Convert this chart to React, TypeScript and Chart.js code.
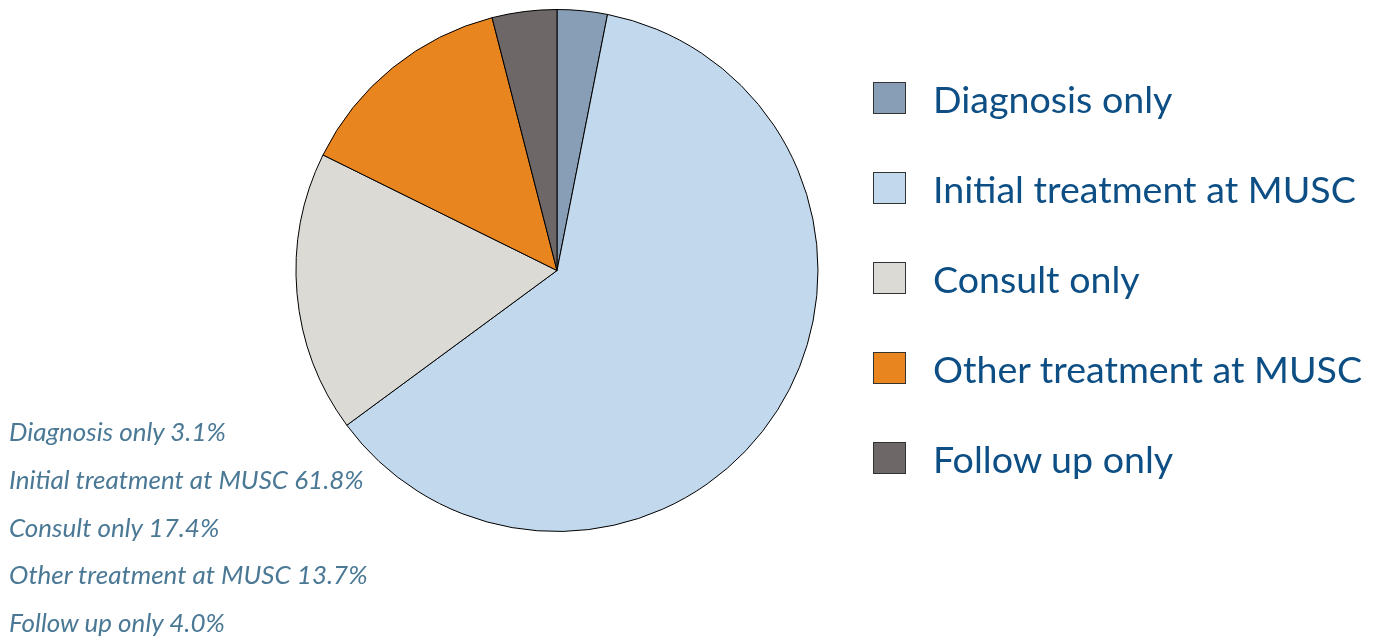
import React, { useEffect, useRef } from "react";
import { Chart, registerables } from "chart.js";

Chart.register(...registerables);

const categories = [
  "Diagnosis only",
  "Initial treatment at MUSC",
  "Consult only",
  "Other treatment at MUSC",
  "Follow up only",
];
const percentages = [3.1, 61.8, 17.4, 13.7, 4.0];
const colors = ["#889db6", "#c2d8ec", "#dbdad5", "#e8851f", "#6d6867"];

const FONT = "Lato, 'Noto Sans', sans-serif";

export default function App() {
  const ref = useRef<HTMLCanvasElement | null>(null);

  useEffect(() => {
    if (!ref.current) return;
    const chart = new Chart(ref.current, {
      type: "pie",
      data: {
        labels: categories,
        datasets: [
          {
            data: percentages,
            backgroundColor: colors,
            borderColor: "#000000",
            borderWidth: 1,
            hoverBorderWidth: 1,
          },
        ],
      },
      options: {
        animation: false,
        responsive: false,
        events: [],
        layout: { padding: { left: 295, top: 9, right: 575, bottom: 106 } },
        plugins: {
          legend: { display: false },
          tooltip: { enabled: false },
        },
      },
    });
    return () => chart.destroy();
  }, []);

  return (
    <div style={{ position: "fixed", left: 0, top: 0, width: 1394, height: 638, background: "#fff" }}>
      <canvas ref={ref} width={1394} height={638} style={{ position: "absolute", left: 0, top: 0 }} />
      {categories.map((c, i) => (
        <div
          key={"leg" + i}
          style={{
            position: "absolute",
            left: 873,
            top: 72 + i * 90,
            height: 52,
            display: "flex",
            alignItems: "center",
            whiteSpace: "nowrap",
          }}
        >
          <div
            style={{
              width: 31,
              height: 30,
              background: colors[i],
              border: "1px solid #333",
              marginRight: 27,
            }}
          />
          <span style={{ fontFamily: FONT, fontSize: 37.6, color: "#0d4f85" }}>{c}</span>
        </div>
      ))}
      {categories.map((c, i) => (
        <div
          key={"lab" + i}
          style={{
            position: "absolute",
            left: 9,
            top: 415 + i * 47.8,
            fontFamily: FONT,
            fontStyle: "italic",
            fontSize: 26,
            color: "#4a7895",
            whiteSpace: "nowrap",
          }}
        >
          {c} {percentages[i].toFixed(1)}%
        </div>
      ))}
    </div>
  );
}
